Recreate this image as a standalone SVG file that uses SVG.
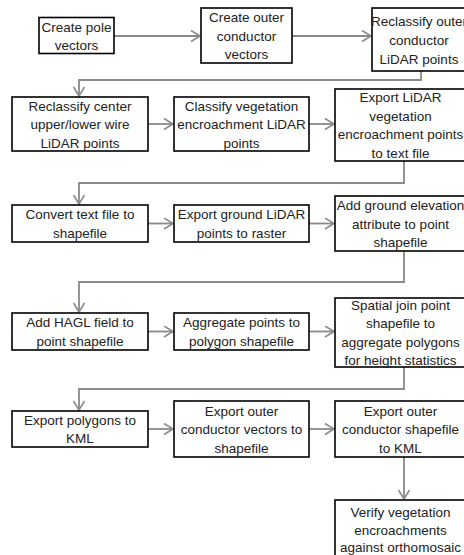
<svg xmlns="http://www.w3.org/2000/svg" width="464" height="555" viewBox="0 0 464 555">
<style>
.box{fill:#fff;stroke:#000;stroke-width:1.6}
.t{font-family:"Liberation Sans",Arial,sans-serif;font-size:13.5px;fill:#222;text-anchor:middle}
.c{fill:none;stroke:#8a8a8a;stroke-width:1.8}
</style>
<defs>
<marker id="ah" markerUnits="userSpaceOnUse" markerWidth="14" markerHeight="14" refX="10" refY="6" orient="auto">
<path d="M1,0.5 L10,6 L1,11.5" fill="none" stroke="#8a8a8a" stroke-width="1.6"/>
</marker>
</defs>
<rect width="464" height="555" fill="#fff"/>
<g id="connectors">
<path class="c" d="M114,36 H200" marker-end="url(#ah)"/>
<path class="c" d="M292,36 H371" marker-end="url(#ah)"/>
<path class="c" d="M421,71 V80 H79 V96" marker-end="url(#ah)"/>
<path class="c" d="M148,124 H173" marker-end="url(#ah)"/>
<path class="c" d="M309,124 H334" marker-end="url(#ah)"/>
<path class="c" d="M404,161 V183 H79 V204" marker-end="url(#ah)"/>
<path class="c" d="M148,223.5 H173" marker-end="url(#ah)"/>
<path class="c" d="M309,223.5 H334" marker-end="url(#ah)"/>
<path class="c" d="M404,251 V282 H79 V312" marker-end="url(#ah)"/>
<path class="c" d="M148,331.5 H173" marker-end="url(#ah)"/>
<path class="c" d="M309,331.5 H334" marker-end="url(#ah)"/>
<path class="c" d="M404,367 V389 H79 V410" marker-end="url(#ah)"/>
<path class="c" d="M148,429 H173" marker-end="url(#ah)"/>
<path class="c" d="M309,429 H334" marker-end="url(#ah)"/>
<path class="c" d="M404,457 V499" marker-end="url(#ah)"/>
</g>
<g id="n1"><rect class="box" x="39" y="17.5" width="75" height="36"/>
<text class="t" x="76.5" y="31.5">Create pole</text><text class="t" x="76.5" y="49.5">vectors</text></g>
<g id="n2"><rect class="box" x="201" y="8" width="91" height="55"/>
<text class="t" x="246.5" y="22">Create outer</text><text class="t" x="246.5" y="40.5">conductor</text><text class="t" x="246.5" y="59">vectors</text></g>
<g id="n3"><rect class="box" x="372" y="8" width="94" height="63"/>
<text class="t" x="419" y="25.5">Reclassify outer</text><text class="t" x="419" y="44.5">conductor</text><text class="t" x="419" y="63.5">LiDAR points</text></g>
<g id="n4"><rect class="box" x="12" y="97" width="136" height="54"/>
<text class="t" x="80" y="110.5">Reclassify center</text><text class="t" x="80" y="129">upper/lower wire</text><text class="t" x="80" y="147.5">LiDAR points</text></g>
<g id="n5"><rect class="box" x="174" y="97" width="135" height="54"/>
<text class="t" x="241.5" y="110.5">Classify vegetation</text><text class="t" x="241.5" y="129">encroachment LiDAR</text><text class="t" x="241.5" y="147.5">points</text></g>
<g id="n6"><rect class="box" x="335" y="89" width="131" height="72"/>
<text class="t" x="400.5" y="102.25">Export LiDAR</text><text class="t" x="400.5" y="120.75">vegetation</text><text class="t" x="400.5" y="139.25">encroachment points</text><text class="t" x="400.5" y="157.75">to text file</text></g>
<g id="n7"><rect class="box" x="12" y="205" width="136" height="37"/>
<text class="t" x="80" y="219.25">Convert text file to</text><text class="t" x="80" y="237.75">shapefile</text></g>
<g id="n8"><rect class="box" x="174" y="205" width="135" height="37"/>
<text class="t" x="241.5" y="219.25">Export ground LiDAR</text><text class="t" x="241.5" y="237.75">points to raster</text></g>
<g id="n9"><rect class="box" x="335" y="196" width="131" height="55"/>
<text class="t" x="400.5" y="210">Add ground elevation</text><text class="t" x="400.5" y="228.5">attribute to point</text><text class="t" x="400.5" y="247">shapefile</text></g>
<g id="n10"><rect class="box" x="12" y="313" width="136" height="37"/>
<text class="t" x="80" y="327.25">Add HAGL field to</text><text class="t" x="80" y="345.75">point shapefile</text></g>
<g id="n11"><rect class="box" x="174" y="313" width="135" height="37"/>
<text class="t" x="241.5" y="327.25">Aggregate points to</text><text class="t" x="241.5" y="345.75">polygon shapefile</text></g>
<g id="n12"><rect class="box" x="335" y="298" width="131" height="69"/>
<text class="t" x="400.5" y="309.75">Spatial join point</text><text class="t" x="400.5" y="328.25">shapefile to</text><text class="t" x="400.5" y="346.75">aggregate polygons</text><text class="t" x="400.5" y="365.25">for height statistics</text></g>
<g id="n13"><rect class="box" x="12" y="411" width="136" height="36"/>
<text class="t" x="80" y="424.75">Export polygons to</text><text class="t" x="80" y="443.25">KML</text></g>
<g id="n14"><rect class="box" x="174" y="401" width="135" height="56"/>
<text class="t" x="241.5" y="415.5">Export outer</text><text class="t" x="241.5" y="434">conductor vectors to</text><text class="t" x="241.5" y="452.5">shapefile</text></g>
<g id="n15"><rect class="box" x="335" y="401" width="131" height="56"/>
<text class="t" x="400.5" y="415.5">Export outer</text><text class="t" x="400.5" y="434">conductor shapefile</text><text class="t" x="400.5" y="452.5">to KML</text></g>
<g id="n16"><rect class="box" x="335" y="500" width="131" height="60"/>
<text class="t" x="400.5" y="517">Verify vegetation</text><text class="t" x="400.5" y="534.5">encroachments</text><text class="t" x="400.5" y="552">against orthomosaic</text></g>
</svg>
